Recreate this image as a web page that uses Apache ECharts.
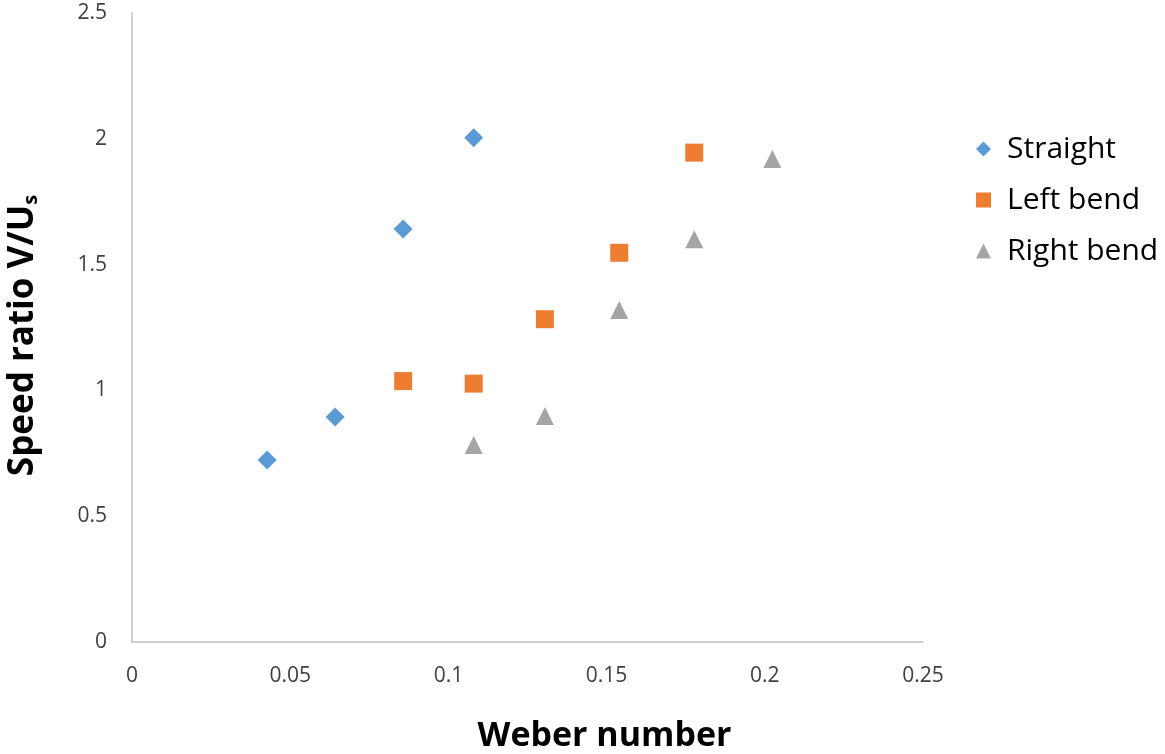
<!DOCTYPE html>
<html>
<head>
<meta charset="utf-8">
<script src="https://cdn.jsdelivr.net/npm/echarts@6/dist/echarts.min.js"></script>
<style>
html,body{margin:0;padding:0;background:#fff;}
#chart{width:1165px;height:754px;}
</style>
</head>
<body>
<div id="chart"></div>
<script>
var seriesNames = ['Straight', 'Left bend', 'Right bend'];
var straightX = [0.0427, 0.0642, 0.0857, 0.1080];
var straightY = [0.723, 0.894, 1.641, 2.004];
var leftX = [0.0857, 0.1080, 0.1305, 0.1540, 0.1777];
var leftY = [1.037, 1.027, 1.283, 1.547, 1.945];
var rightX = [0.1080, 0.1305, 0.1540, 0.1777, 0.2024];
var rightY = [0.783, 0.898, 1.320, 1.601, 1.920];
var xTicks = [0, 0.05, 0.1, 0.15, 0.2, 0.25];
var yTicks = [0, 0.5, 1, 1.5, 2, 2.5];

function pairs(xs, ys){ return xs.map(function(x,i){ return [x, ys[i]]; }); }

var chart = echarts.init(document.getElementById('chart'));
var font = '"Open Sans", Lato, sans-serif';
chart.setOption({
  animation: false,
  backgroundColor: '#fff',
  textStyle: { fontFamily: font },
  grid: { left: 132, right: 242, top: 13, bottom: 112, containLabel: false, outerBoundsMode: 'none' },
  legend: {
    orient: 'vertical',
    left: 971,
    top: 129,
    itemWidth: 15,
    itemHeight: 15,
    itemGap: 21,
    textStyle: { fontSize: 30, color: '#000', fontFamily: font, padding: [0,0,0,11] },
    data: [
      { name: seriesNames[0], icon: 'diamond' },
      { name: seriesNames[1], icon: 'rect' },
      { name: seriesNames[2], icon: 'triangle' }
    ]
  },
  xAxis: {
    type: 'value',
    min: xTicks[0], max: xTicks[xTicks.length-1], interval: 0.05,
    name: 'Weber number',
    nameLocation: 'middle',
    nameGap: 77,
    nameTextStyle: { fontSize: 34, fontWeight: 'bold', color: '#000', fontFamily: font, padding: [0,0,0,154] },
    axisLine: { show: true, lineStyle: { color: '#BFBFBF', width: 1.5 } },
    axisTick: { show: false },
    splitLine: { show: false },
    axisLabel: { fontSize: 21, color: '#404040', margin: 24, fontFamily: font,
      formatter: function(v){ return String(+v.toFixed(2)); } }
  },
  yAxis: {
    type: 'value',
    min: yTicks[0], max: yTicks[yTicks.length-1], interval: 0.5,
    name: '{a|Speed ratio V/U}{b|s}',
    nameLocation: 'middle',
    nameRotate: 90,
    nameGap: 91,
    nameTextStyle: {
      fontFamily: font,
      padding: [0, 16, 0, 0],
      rich: {
        a: { fontSize: 35, fontWeight: 'bold', color: '#000', fontFamily: font },
        b: { fontSize: 20, fontWeight: 'bold', color: '#000', fontFamily: font, verticalAlign: 'bottom', padding: [14,0,0,0] }
      }
    },
    axisLine: { show: true, lineStyle: { color: '#BFBFBF', width: 1.5 } },
    axisTick: { show: false },
    splitLine: { show: false },
    axisLabel: { fontSize: 21, color: '#404040', margin: 25, fontFamily: font,
      formatter: function(v){ return String(+v.toFixed(2)); } }
  },
  series: [
    { name: seriesNames[0], type: 'scatter', symbol: 'diamond', symbolSize: 19,
      itemStyle: { color: '#5B9BD5', opacity: 1 }, data: pairs(straightX, straightY) },
    { name: seriesNames[1], type: 'scatter', symbol: 'rect', symbolSize: 18,
      itemStyle: { color: '#ED7D31', opacity: 1 }, data: pairs(leftX, leftY) },
    { name: seriesNames[2], type: 'scatter', symbol: 'triangle', symbolSize: [18, 18],
      itemStyle: { color: '#A5A5A5', opacity: 1 }, data: pairs(rightX, rightY) }
  ]
});
</script>
</body>
</html>
